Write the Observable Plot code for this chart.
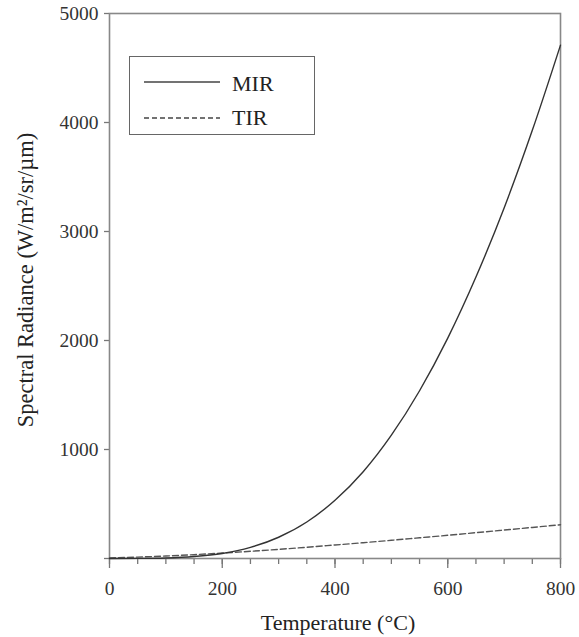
<!DOCTYPE html>
<html>
<head>
<meta charset="utf-8">
<script src="https://cdn.jsdelivr.net/npm/d3@7"></script>
<script src="https://cdn.jsdelivr.net/npm/@observablehq/plot@0.6"></script>
<style>
  html, body { margin: 0; padding: 0; background: #fff; }
  #wrap { position: relative; width: 579px; height: 637px; font-family: "Liberation Serif", "Tinos", "Times New Roman", "DejaVu Serif", serif; }
  #legend { position: absolute; left: 129px; top: 56px; width: 184px; height: 77px; border: 1.6px solid #666; background: #fff; }
  #wrap svg text { font-family: "Liberation Serif", "Tinos", "Times New Roman", "DejaVu Serif", serif !important; }
</style>
</head>
<body>
<div id="wrap"></div>
<script>
// Temperature (°C)
const temperature = [0, 50, 100, 150, 200, 250, 300, 350, 400, 450, 500, 550, 600, 650, 700, 750, 800];
// Spectral radiance (W/m²/sr/µm)
const mir = [0, 1, 5, 18, 46, 102, 195, 335, 534, 796, 1131, 1539, 2022, 2582, 3216, 3928, 4710];
const tir = [6, 13, 23, 35, 50, 66, 84, 103, 124, 145, 167, 190, 213, 237, 261, 285, 310];
const seriesNames = ["MIR", "TIR"];
const xMajorTicks = [0, 200, 400, 600, 800];
const xMinorTicks = [0, 50, 100, 150, 200, 250, 300, 350, 400, 450, 500, 550, 600, 650, 700, 750, 800];
const yTicks = [0, 1000, 2000, 3000, 4000, 5000];
const xTitle = "Temperature (°C)";
const yTitle = "Spectral Radiance (W/m²/sr/µm)";

const mirData = temperature.map((t, i) => ({t, v: mir[i]}));
const tirData = temperature.map((t, i) => ({t, v: tir[i]}));

const font = "'Liberation Serif', 'Tinos', 'Times New Roman', 'DejaVu Serif', serif";
const chart = Plot.plot({
  width: 579,
  height: 637,
  marginLeft: 109,
  marginRight: 19,
  marginTop: 13,
  marginBottom: 79,
  style: {fontFamily: font, background: "#fff", color: "#333"},
  x: {domain: [0, 800]},
  y: {domain: [0, 5000]},
  marks: [
    Plot.axisX({ticks: xMinorTicks, tickSize: 6, text: null, stroke: "#777", strokeWidth: 1.3, label: null}),
    Plot.axisX({ticks: xMajorTicks, tickSize: 10, tickPadding: 13, stroke: "#777", strokeWidth: 1.3, fontSize: 19.5, fill: "#333", label: null, tickFormat: d => String(d)}),
    Plot.axisY({ticks: yTicks, tickSize: 5, tickPadding: 6, stroke: "#777", strokeWidth: 1.3, fontSize: 19.5, fill: "#333", label: null, tickFormat: d => d === 0 ? "" : String(d)}),
    Plot.frame({stroke: "#888", strokeWidth: 1.6}),
    Plot.line(tirData, {x: "t", y: "v", stroke: "#555", strokeWidth: 1.4, strokeDasharray: "6,3", curve: "monotone-x"}),
    Plot.line(mirData, {x: "t", y: "v", stroke: "#333", strokeWidth: 1.4, curve: "monotone-x"}),
    Plot.text([xTitle], {frameAnchor: "bottom", dy: 64, dx: 3, text: d => d, fontSize: 22, fill: "#222", lineAnchor: "middle", textAnchor: "middle"}),
    Plot.text([yTitle], {frameAnchor: "left", dx: -84, dy: -6, rotate: -90, text: d => d, fontSize: 22.5, fill: "#222", lineAnchor: "middle", textAnchor: "middle"})
  ]
});
const wrap = document.getElementById("wrap");
wrap.appendChild(chart);

// Legend overlay
const legend = document.createElement("div");
legend.id = "legend";
const ns = "http://www.w3.org/2000/svg";
const lsvg = document.createElementNS(ns, "svg");
lsvg.setAttribute("width", 184);
lsvg.setAttribute("height", 77);
lsvg.style.display = "block";
const styles = [{dash: null, stroke: "#444"}, {dash: "5,3", stroke: "#444"}];
seriesNames.forEach((name, i) => {
  const cy = 25 + i * 36;
  const ln = document.createElementNS(ns, "line");
  ln.setAttribute("x1", 14); ln.setAttribute("x2", 90);
  ln.setAttribute("y1", cy); ln.setAttribute("y2", cy);
  ln.setAttribute("stroke", styles[i].stroke);
  ln.setAttribute("stroke-width", 1.4);
  if (styles[i].dash) ln.setAttribute("stroke-dasharray", styles[i].dash);
  lsvg.appendChild(ln);
  const tx = document.createElementNS(ns, "text");
  tx.setAttribute("x", 102);
  tx.setAttribute("y", cy + 9 - i * 2);
  tx.setAttribute("font-size", 22);
  tx.setAttribute("fill", "#222");
  tx.textContent = name;
  lsvg.appendChild(tx);
});
legend.appendChild(lsvg);
wrap.appendChild(legend);
</script>
</body>
</html>
